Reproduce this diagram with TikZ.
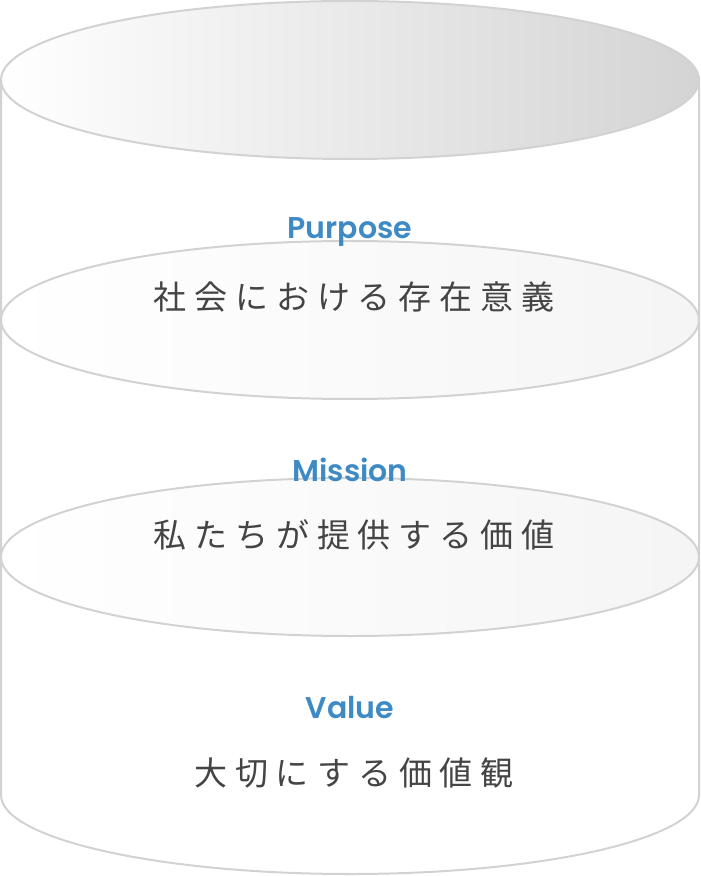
\documentclass[tikz,border=0pt]{standalone}
\usepackage{fontspec}
\newfontfamily\jpfont[LetterSpace=24]{Noto Sans CJK JP}
\newfontfamily\headfont{Poppins}[BoldFont={Poppins SemiBold}]
\definecolor{rimgray}{HTML}{D2D2D2}
\definecolor{headblue}{HTML}{3E8AC5}
\definecolor{textgray}{HTML}{444444}
\tikzset{
  rim/.style={draw=rimgray, line width=1pt},
  layer/.style={rim, left color=white, right color=black!4},
  head/.style={font=\headfont\bfseries\fontsize{15}{17}\selectfont, text=headblue},
  label/.style={font=\jpfont\fontsize{16.5}{18}\selectfont, text=textgray}
}
\begin{document}
\begin{tikzpicture}[x=0.5pt, y=-0.5pt]
    \useasboundingbox (0,0) rectangle (700,876);
    % Body of the cylinder
    \draw[rim] (1,80) -- (1,795) arc[start angle=180, end angle=0, x radius=349, y radius=79] -- (699,80);
    % Layers
    \draw[layer] (350,320) ellipse[x radius=349, y radius=79];
    \draw[layer] (350,557) ellipse[x radius=349, y radius=79];
    \draw[rim, left color=white, right color=black!17] (350,80) ellipse[x radius=349, y radius=79];
    % Texts
    \node[head]  (purpose) at (350,232) {Purpose};
    \node[label] (purposetxt) at (354,297) {社会における存在意義};
    \node[head]  (mission) at (350,470) {Mission};
    \node[label] (missiontxt) at (354,535) {私たちが提供する価値};
    \node[head]  (value) at (350,708) {Value};
    \node[label] (valuetxt) at (354,773) {大切にする価値観};
\end{tikzpicture}
\end{document}
